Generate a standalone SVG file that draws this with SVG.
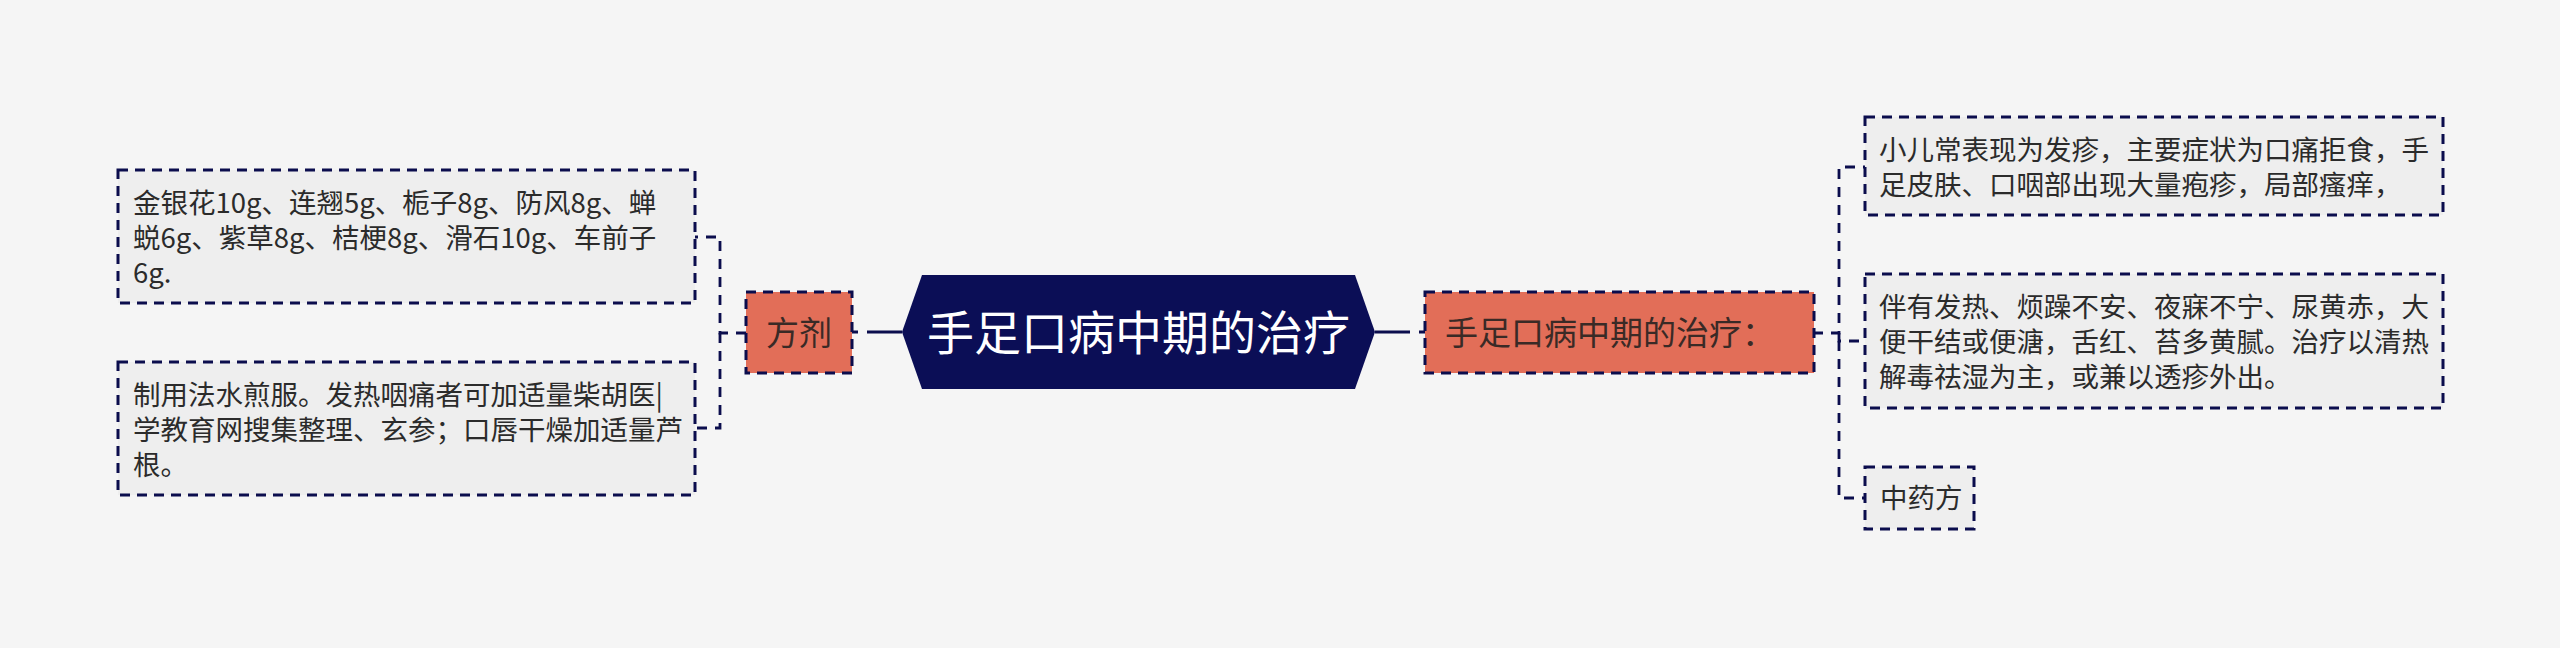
<svg xmlns="http://www.w3.org/2000/svg" width="2560" height="648" viewBox="0 0 2560 648">
<style>
.bg{fill:#f5f5f5}
.box{fill:#eeeeee;stroke:#0b0d4d;stroke-width:3;stroke-dasharray:10 7}
.sec{fill:#e26e58;stroke:#0b0d4d;stroke-width:3;stroke-dasharray:10 7}
.conn{fill:none;stroke:#0b0d4d;stroke-width:2.8;stroke-dasharray:10 8}
.solid{fill:none;stroke:#0b0d4d;stroke-width:3}
.t{font-family:"Noto Sans CJK SC","Microsoft YaHei",sans-serif;font-size:27.5px;fill:#2b2b2b}
.ts{font-family:"Noto Sans CJK SC","Microsoft YaHei",sans-serif;font-size:33px;fill:#3a2a26}
.tc{font-family:"Noto Sans CJK SC","Microsoft YaHei",sans-serif;font-size:47px;fill:#ffffff}
</style>
<rect class="bg" x="0" y="0" width="2560" height="648"/>
<g id="connectors">
<path class="conn" d="M746 333 H720 V237 H695"/>
<path class="conn" d="M720 333 V428 H695"/>
<path class="solid" d="M902 332 H852" stroke-dasharray="35 9 7"/>
<path class="solid" d="M1375 332 H1425" stroke-dasharray="35 9 7"/>
<path class="conn" d="M1813 333 H1839 V167 H1865"/>
<path class="conn" d="M1839 333 V341 H1865"/>
<path class="conn" d="M1839 341 V498 H1865"/>
</g>
<g id="center">
<polygon points="902,332 922,275 1355,275 1375,332 1355,389 922,389" fill="#0b0e56"/>
<text class="tc" x="1138.5" y="349.5" text-anchor="middle">手足口病中期的治疗</text>
</g>
<g id="fangji">
<rect class="sec" x="746" y="292" width="106" height="81"/>
<text class="ts" x="799" y="345" text-anchor="middle">方剂</text>
</g>
<g id="right-main">
<rect class="sec" x="1425" y="292" width="389" height="81"/>
<text class="ts" x="1445" y="345">手足口病中期的治疗：</text>
</g>
<g id="box1">
<rect class="box" x="118" y="170" width="577" height="133"/>
<text class="t" x="133" y="213">金银花10g、连翘5g、栀子8g、防风8g、蝉</text>
<text class="t" x="133" y="248">蜕6g、紫草8g、桔梗8g、滑石10g、车前子</text>
<text class="t" x="133" y="283">6g.</text>
</g>
<g id="box2">
<rect class="box" x="118" y="362" width="577" height="133"/>
<text class="t" x="133" y="405">制用法水煎服。发热咽痛者可加适量柴胡医|</text>
<text class="t" x="133" y="440">学教育网搜集整理、玄参；口唇干燥加适量芦</text>
<text class="t" x="133" y="475">根。</text>
</g>
<g id="boxA">
<rect class="box" x="1865" y="117" width="578" height="98"/>
<text class="t" x="1879" y="160">小儿常表现为发疹，主要症状为口痛拒食，手</text>
<text class="t" x="1879" y="195">足皮肤、口咽部出现大量疱疹，局部瘙痒，</text>
</g>
<g id="boxB">
<rect class="box" x="1865" y="274" width="578" height="134"/>
<text class="t" x="1879" y="317">伴有发热、烦躁不安、夜寐不宁、尿黄赤，大</text>
<text class="t" x="1879" y="352">便干结或便溏，舌红、苔多黄腻。治疗以清热</text>
<text class="t" x="1879" y="387">解毒祛湿为主，或兼以透疹外出。</text>
</g>
<g id="boxC">
<rect class="box" x="1865" y="467" width="109" height="62"/>
<text class="t" x="1880" y="508">中药方</text>
</g>
</svg>
